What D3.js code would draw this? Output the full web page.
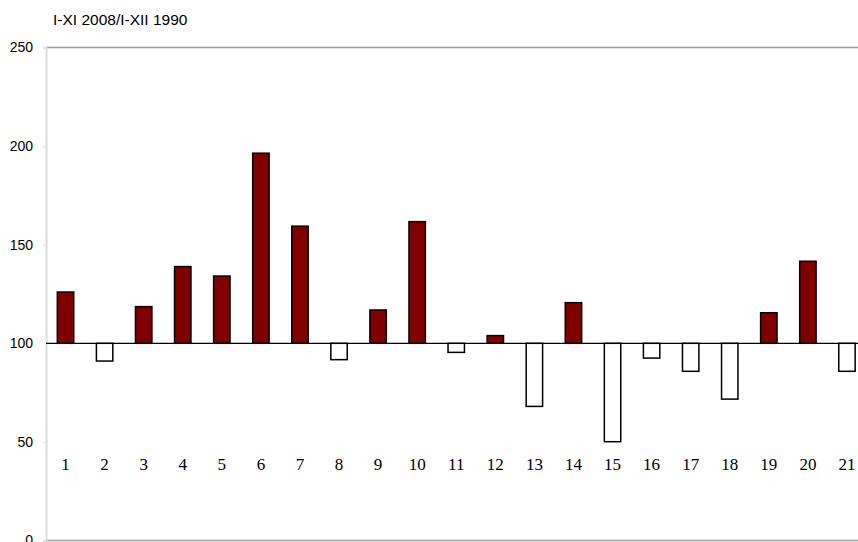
<!DOCTYPE html>
<html>
<head>
<meta charset="utf-8">
<script src="https://cdn.jsdelivr.net/npm/d3@7"></script>
<style>
  body { margin: 0; background: #fff; }
  svg { display: block; }
</style>
</head>
<body>
<div id="graph"></div>
<script>
const categories = ['1','2','3','4','5','6','7','8','9','10','11','12','13','14','15','16','17','18','19','20','21']
const values = [126, 91, 118.6, 138.9, 134.1, 196.4, 159.4, 91.7, 116.9, 161.7, 95.4, 103.9, 68, 120.6, 50.1, 92.5, 85.8, 71.7, 115.5, 141.6, 85.8]
const yTicks = [0, 50, 100, 150, 200, 250]
const title = 'I-XI 2008/I-XII 1990'
const base = 100

const width = 858
const height = 542
const padLeft = 46
const padTop = 47.5
const padBottom = 540.5

const data = categories.map((c, i) => ({cat: c, val: values[i]}))

const svg = d3.select('#graph')
  .append('svg')
  .attr('width', width)
  .attr('height', height)

const xScale = d3.scaleBand()
  .domain(categories)
  .range([padLeft, 866.5])
  .paddingInner(0.58)
  .paddingOuter(0.29)

const yScale = d3.scaleLinear().domain([0, 250]).range([padBottom, padTop])

// frame lines
svg.append('line')
  .attr('x1', padLeft).attr('x2', width)
  .attr('y1', padTop).attr('y2', padTop)
  .attr('stroke', '#9a9a9a').attr('stroke-width', 1.5)

svg.append('line')
  .attr('x1', padLeft).attr('x2', width)
  .attr('y1', padBottom).attr('y2', padBottom)
  .attr('stroke', '#9a9a9a').attr('stroke-width', 1.5)

// y axis
const yAxis = d3.axisLeft(yScale).tickValues(yTicks).tickSize(3).tickPadding(10)
const gy = svg.append('g')
  .attr('transform', `translate(${padLeft},0)`)
  .call(yAxis)
gy.select('.domain').attr('stroke', '#dcdcdc').attr('stroke-width', 2)
gy.selectAll('.tick line').attr('stroke', '#e6e6e6')
gy.selectAll('.tick text')
  .attr('font-family', 'Arial, "Liberation Sans", sans-serif')
  .attr('font-size', 14)
  .attr('fill', '#000')

// title
svg.append('text')
  .attr('x', 53)
  .attr('y', 25)
  .attr('font-family', 'Arial, "Liberation Sans", sans-serif')
  .attr('font-size', 15.5)
  .text(title)

// bars
svg.selectAll('rect.bar')
  .data(data)
  .enter()
  .append('rect')
  .attr('class', 'bar')
  .attr('x', d => xScale(d.cat))
  .attr('width', xScale.bandwidth())
  .attr('y', d => yScale(Math.max(d.val, base)))
  .attr('height', d => Math.abs(yScale(d.val) - yScale(base)))
  .attr('fill', d => d.val >= base ? '#800000' : '#fff')
  .attr('stroke', '#000')
  .attr('stroke-width', 1.5)

// baseline at 100
svg.append('line')
  .attr('x1', padLeft).attr('x2', width)
  .attr('y1', yScale(base)).attr('y2', yScale(base))
  .attr('stroke', '#000').attr('stroke-width', 1.2)

// category labels
svg.selectAll('text.cat')
  .data(data)
  .enter()
  .append('text')
  .attr('class', 'cat')
  .attr('x', d => xScale(d.cat) + xScale.bandwidth() / 2)
  .attr('y', 470)
  .attr('text-anchor', 'middle')
  .attr('font-family', '"Liberation Serif", "Times New Roman", serif')
  .attr('font-size', 17)
  .text(d => d.cat)
</script>
</body>
</html>
